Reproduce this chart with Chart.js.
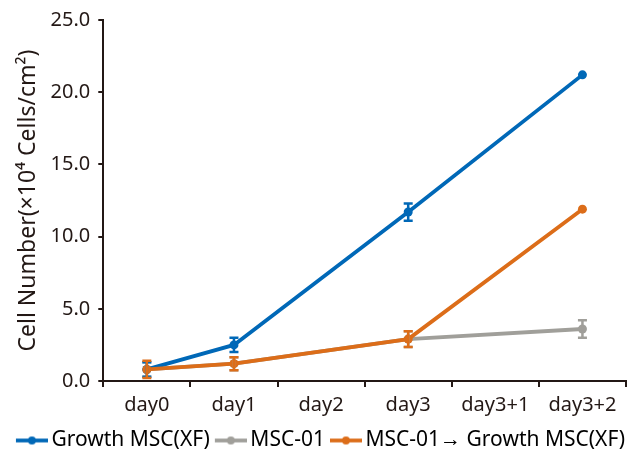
<!DOCTYPE html>
<html><head><meta charset="utf-8">
<script src="https://cdn.jsdelivr.net/npm/chart.js@4.4.1/dist/chart.umd.min.js"></script>
<style>html,body{margin:0;padding:0;background:#fff;}#wrap{width:631px;height:453px;}</style>
</head><body><div id="wrap"><canvas id="c" width="631" height="453"></canvas></div>
<script>
const categories = ['day0','day1','day2','day3','day3+1','day3+2'];
const growthMSC = [0.8, 2.5, null, 11.7, null, 21.2];
const growthMSCErr = [0.5, 0.5, null, 0.6, null, 0];
const msc01 = [0.8, 1.2, null, 2.9, null, 3.6];
const msc01Err = [0.5, 0.45, null, 0.55, null, 0.6];
const switched = [0.8, 1.2, null, 2.9, null, 11.9];
const switchedErr = [0.6, 0.45, null, 0.55, null, 0];
const seriesNames = ['Growth MSC(XF)', 'MSC-01', 'MSC-01\u2192 Growth MSC(XF)'];
const yTicks = [0, 5, 10, 15, 20, 25];

const colors = ['#0068b7', '#a09f9a', '#dc6d19'];
const errs = [growthMSCErr, msc01Err, switchedErr];

function legendIcon(color){
  const cv = document.createElement('canvas');
  cv.width = 38; cv.height = 10;
  const g = cv.getContext('2d');
  g.strokeStyle = color; g.lineWidth = 3.8;
  g.beginPath(); g.moveTo(6,5); g.lineTo(38,5); g.stroke();
  g.fillStyle = color; g.beginPath(); g.arc(22,5,4,0,Math.PI*2); g.fill();
  return cv;
}
const icons = colors.map(legendIcon);

const errorBars = {
  id: 'errorBars',
  afterDatasetsDraw(chart){
    const ctx = chart.ctx, y = chart.scales.y;
    [1,0,2].forEach(di => {
      const meta = chart.getDatasetMeta(di);
      const data = chart.data.datasets[di].data;
      ctx.save();
      ctx.strokeStyle = colors[di];
      ctx.lineWidth = 2.5;
      meta.data.forEach((pt, i) => {
        const v = data[i], e = errs[di][i];
        if (v == null || !e) return;
        const x = pt.x, y1 = y.getPixelForValue(v + e), y2 = y.getPixelForValue(v - e);
        ctx.beginPath(); ctx.moveTo(x, y1); ctx.lineTo(x, y2);
        ctx.moveTo(x-4.5, y1); ctx.lineTo(x+4.5, y1);
        ctx.moveTo(x-4.5, y2); ctx.lineTo(x+4.5, y2);
        ctx.stroke();
      });
      ctx.restore();
    });
  }
};

const ds = (label, data, color, order) => ({
  label, data, order,
  borderColor: color, backgroundColor: color,
  borderWidth: 3.8, pointRadius: 4.5, pointHoverRadius: 4.5,
  pointBorderWidth: 0, spanGaps: true, tension: 0
});

new Chart(document.getElementById('c'), {
  type: 'line',
  data: {
    labels: categories,
    datasets: [
      ds(seriesNames[0], growthMSC, colors[0], 1),
      ds(seriesNames[1], msc01, colors[1], 2),
      ds(seriesNames[2], switched, colors[2], 0)
    ]
  },
  plugins: [errorBars],
  options: {
    responsive: false, animation: false, devicePixelRatio: 1,
    layout: { padding: { left: 0, right: 0, top: 4, bottom: -8 } },
    font: { family: 'Noto Sans' },
    plugins: {
      tooltip: { enabled: false },
      legend: {
        position: 'bottom', align: 'end',
        labels: {
          usePointStyle: true, pointStyleWidth: 24, boxHeight: 10,
          padding: 6, color: '#231815',
          font: { family: 'Noto Sans', size: 21 },
          generateLabels(chart){
            return chart.data.datasets.map((d, i) => ({
              text: d.label, pointStyle: icons[i], fillStyle: colors[i],
              strokeStyle: colors[i], lineWidth: 0, datasetIndex: i, hidden: false
            }));
          }
        }
      }
    },
    scales: {
      x: {
        type: 'category', offset: true,
        grid: { offset: true, drawOnChartArea: false, drawTicks: true, tickLength: 6, color: '#231815', lineWidth: 2 },
        border: { color: '#231815', width: 2 },
        ticks: { color: '#231815', font: { family: 'Noto Sans', size: 20 }, padding: 6.5 }
      },
      y: {
        min: 0, max: 25,
        afterBuildTicks(scale){ scale.ticks = yTicks.map(v => ({ value: v })); },
        grid: { drawOnChartArea: false, drawTicks: true, tickLength: 5, color: '#231815', lineWidth: 2 },
        border: { color: '#231815', width: 2 },
        title: { display: true, text: 'Cell Number(\u00d710\u2074 Cells/cm\u00b2)', color: '#231815', font: { family: 'Noto Sans', size: 23 }, padding: { top: 15, bottom: 0 } },
        ticks: { color: '#231815', font: { family: 'Noto Sans', size: 20 }, padding: 8, callback: v => Number(v).toFixed(1) }
      },
      yRightSpace: {
        position: 'right', display: true,
        grid: { display: false }, border: { display: false }, ticks: { display: false },
        afterFit(scale){ scale.width = 5; }
      }
    }
  }
});
</script></body></html>
